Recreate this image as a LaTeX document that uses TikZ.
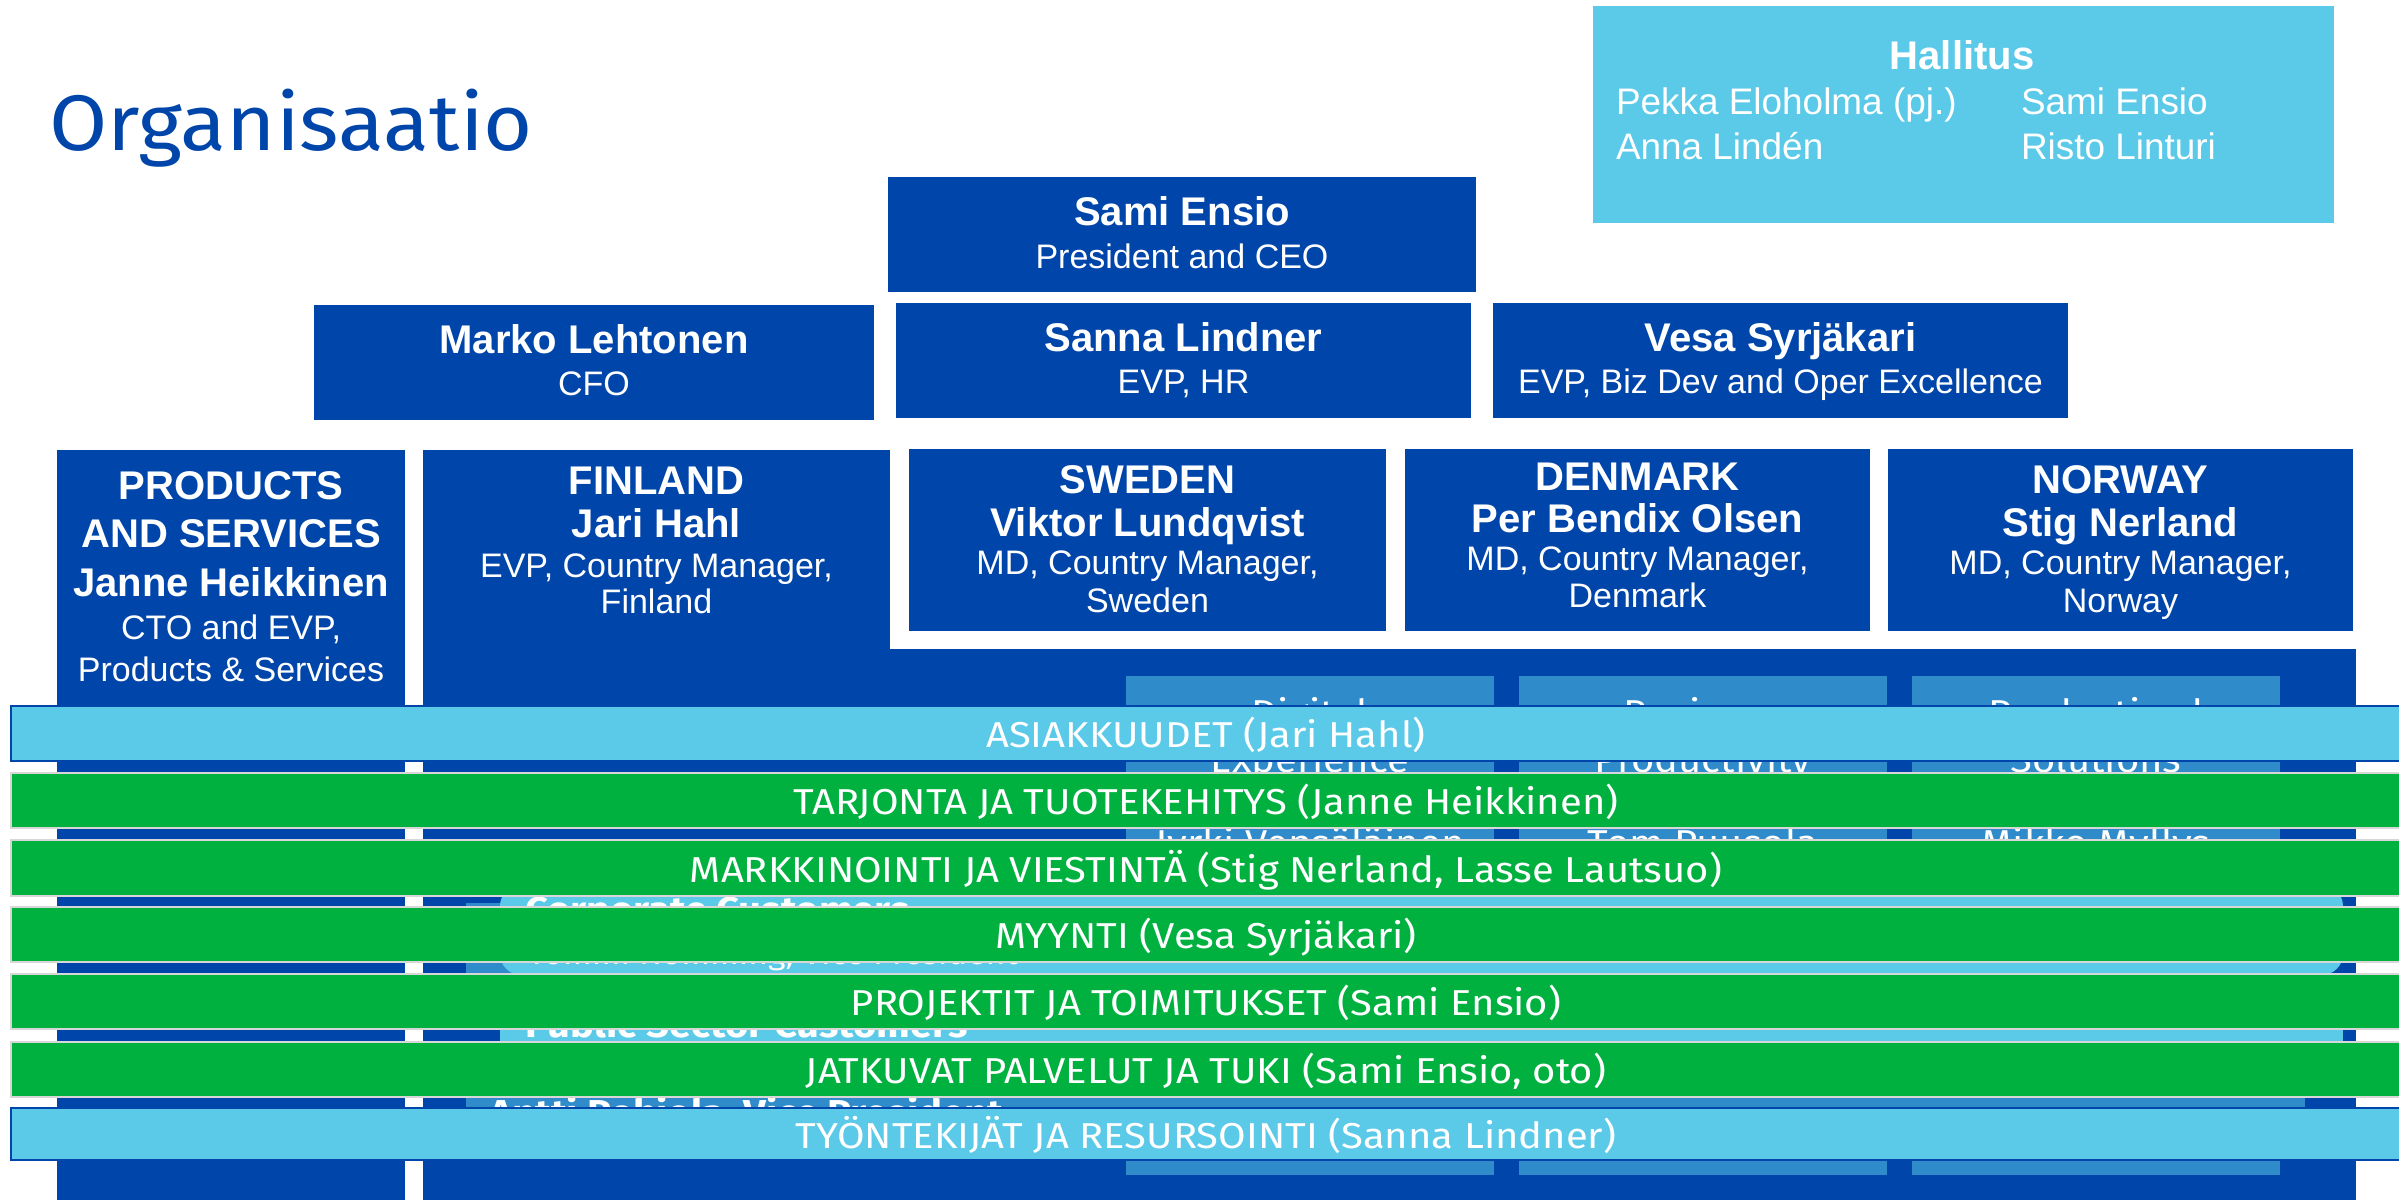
\documentclass[tikz,border=0pt]{standalone}
\usepackage{fontspec}
\setmainfont{Liberation Sans}
\newfontfamily\sq{Fira Sans}[FakeStretch=1.11]
\newfontfamily\sqt{Fira Sans}[FakeStretch=1.07]
\definecolor{dblue}{RGB}{0,69,169}
\definecolor{lblue}{RGB}{91,201,232}
\definecolor{mblue}{RGB}{47,139,202}
\definecolor{gbar}{RGB}{0,177,64}
\definecolor{gline}{RGB}{215,215,215}
\newcommand\rbox[6]{\node[#2, anchor=north west, minimum width={(#5-#3)*0.01cm}, minimum height={(#6-#4)*0.01cm}] (#1) at (#3,#4) {};}
\tikzset{
  dbox/.style={fill=dblue},
  lbox/.style={fill=lblue},
  mbox/.style={fill=mblue},
  gbarbox/.style={fill=gbar, draw=gline, line width=0.8pt},
  lbarbox/.style={fill=lblue, draw=dblue, line width=0.6pt},
  bt/.style={text=white, font=\bfseries\fontsize{11.38}{13}\selectfont, anchor=base},
  rt/.style={text=white, font=\fontsize{9.67}{12}\selectfont, anchor=base},
  ht/.style={text=white, font=\fontsize{10.5}{12}\selectfont, anchor=base west},
  bartxt/.style={text=white, font=\sq\fontsize{10.24}{12}\selectfont, anchor=base},
  coltxt/.style={text=white, font=\sq\fontsize{10.24}{12}\selectfont, anchor=base},
  hidb/.style={text=white, font=\sq\bfseries\fontsize{10.24}{12}\selectfont, anchor=base west},
  hidr/.style={text=white, font=\sq\fontsize{8.6}{10}\selectfont, anchor=base west},
}
\begin{document}
\begin{tikzpicture}[x=0.01cm,y=-0.01cm, every node/.append style={inner sep=0pt, outer sep=0pt}]
\clip (0,0) rectangle (2399,1200);
\fill[white] (0,0) rectangle (2399,1200);

% title
\node[anchor=base west, text=dblue, font=\sqt\fontsize{22.4}{26}\selectfont] (title) at (49,150) {Organisaatio};

% board
\rbox{hall}{lbox}{1593}{6}{2334}{223}
\node[bt] (hallT) at (1962,69) {Hallitus};
\node[ht] (h1) at (1616,114) {Pekka Eloholma (pj.)};
\node[ht] (h2) at (2021,114) {Sami Ensio};
\node[ht] (h3) at (1616,159) {Anna Lindén};
\node[ht] (h4) at (2021,159) {Risto Linturi};

% management
\rbox{ceo}{dbox}{888}{177}{1476}{292}
\node[bt] (ceoA) at (1182,225) {Sami Ensio};
\node[rt] (ceoB) at (1182,268) {President and CEO};

\rbox{cfo}{dbox}{314}{305}{874}{420}
\node[bt] (cfoA) at (594,353) {Marko Lehtonen};
\node[rt] (cfoB) at (594,395) {CFO};

\rbox{hr}{dbox}{896}{303}{1471}{418}
\node[bt] (hrA) at (1183.5,351) {Sanna Lindner};
\node[rt] (hrB) at (1183.5,393) {EVP, HR};

\rbox{biz}{dbox}{1493}{303}{2068}{418}
\node[bt] (bizA) at (1780.5,351) {Vesa Syrjäkari};
\node[rt] (bizB) at (1780.5,393) {EVP, Biz Dev and Oper Excellence};

% products and services
\rbox{ps}{dbox}{57}{450}{405}{1200}
\node[bt] (psA) at (231,499) {PRODUCTS};
\node[bt] (psB) at (231,547.6) {AND SERVICES};
\node[bt] (psC) at (231,596) {Janne Heikkinen};
\node[rt] (psD) at (231,639) {CTO and EVP,};
\node[rt] (psE) at (231,681) {Products \& Services};

% finland
\rbox{finA}{dbox}{423}{450}{890}{1200}
\rbox{finB}{dbox}{423}{649}{2356}{1200}
\node[bt] (finT1) at (656.5,494) {FINLAND};
\node[bt] (finT2) at (656.5,537) {Jari Hahl};
\node[rt] (finT3) at (656.5,577) {EVP, Country Manager,};
\node[rt] (finT4) at (656.5,613.5) {Finland};

% countries
\rbox{swe}{dbox}{909}{449}{1386}{631}
\node[bt] (sweT1) at (1147.5,493) {SWEDEN};
\node[bt] (sweT2) at (1147.5,536) {Viktor Lundqvist};
\node[rt] (sweT3) at (1147.5,574) {MD, Country Manager,};
\node[rt] (sweT4) at (1147.5,612) {Sweden};

\rbox{den}{dbox}{1405}{449}{1870}{631}
\node[bt] (denT1) at (1637.5,490) {DENMARK};
\node[bt] (denT2) at (1637.5,532) {Per Bendix Olsen};
\node[rt] (denT3) at (1637.5,570) {MD, Country Manager,};
\node[rt] (denT4) at (1637.5,607) {Denmark};

\rbox{nor}{dbox}{1888}{449}{2353}{631}
\node[bt] (norT1) at (2120.5,493) {NORWAY};
\node[bt] (norT2) at (2120.5,536) {Stig Nerland};
\node[rt] (norT3) at (2120.5,574) {MD, Country Manager,};
\node[rt] (norT4) at (2120.5,612) {Norway};

% units (mostly covered by the process bars)
\rbox{dig}{mbox}{1126}{676}{1494}{1175}
\rbox{bus}{mbox}{1519}{676}{1887}{1175}
\rbox{prd}{mbox}{1912}{676}{2280}{1175}
\node[coltxt] (digA) at (1310,725) {Digital};
\node[coltxt] (digB) at (1310,772) {Experience};
\node[coltxt] (digC) at (1310,855) {Jyrki Vepsäläinen};
\node[coltxt] (busA) at (1703,725) {Business};
\node[coltxt] (busB) at (1703,772) {Productivity};
\node[coltxt] (busC) at (1703,855) {Tom Puusola};
\node[coltxt] (prdA) at (2096,725) {Productized};
\node[coltxt] (prdB) at (2096,772) {Solutions};
\node[coltxt] (prdC) at (2096,855) {Mikko Myllys};

\rbox{mb1}{mbox}{466}{903}{2305}{975}
\node[lbox, rounded corners=6pt, anchor=north west, minimum width={1843*0.01cm}, minimum height={90*0.01cm}] (corp) at (500,885) {};
\rbox{pub}{lbox}{500}{980}{2343}{1041}
\rbox{mb2}{mbox}{466}{1045}{2305}{1110}
\node[hidb] (corpA) at (525,922) {Corporate Customers};
\node[hidr] (corpB) at (528,964) {Tommi Homming, Vice President};
\node[hidb] (pubA) at (525,1037) {Public Sector Customers};
\node[hidb] (antA) at (489,1125) {Antti Pohjola, Vice President};

% process bars
\rbox{b1}{lbarbox}{11}{706}{2420}{761}
\rbox{b2}{gbarbox}{11}{773}{2420}{828}
\rbox{b3}{gbarbox}{11}{840}{2420}{896}
\rbox{b4}{gbarbox}{11}{907}{2420}{962}
\rbox{b5}{gbarbox}{11}{974}{2420}{1029}
\rbox{b6}{gbarbox}{11}{1042}{2420}{1097}
\rbox{b7}{lbarbox}{11}{1108}{2420}{1160}

\node[bartxt] (t1) at (1206,747.5) {ASIAKKUUDET (Jari Hahl)};
\node[bartxt] (t2) at (1206,814.5) {TARJONTA JA TUOTEKEHITYS (Janne Heikkinen)};
\node[bartxt] (t3) at (1206,882) {MARKKINOINTI JA VIESTINTÄ (Stig Nerland, Lasse Lautsuo)};
\node[bartxt] (t4) at (1206,948.5) {MYYNTI (Vesa Syrjäkari)};
\node[bartxt] (t5) at (1206,1015.5) {PROJEKTIT JA TOIMITUKSET (Sami Ensio)};
\node[bartxt] (t6) at (1206,1083.5) {JATKUVAT PALVELUT JA TUKI (Sami Ensio, oto)};
\node[bartxt] (t7) at (1206,1148) {TYÖNTEKIJÄT JA RESURSOINTI (Sanna Lindner)};
\end{tikzpicture}
\end{document}
